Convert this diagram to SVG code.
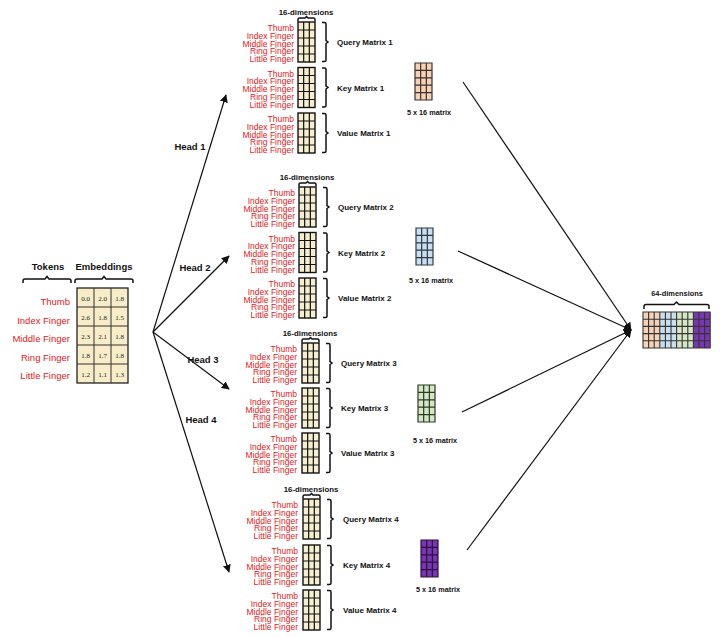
<svg xmlns="http://www.w3.org/2000/svg" xmlns:xlink="http://www.w3.org/1999/xlink" width="720" height="637" viewBox="0 0 720 637">
<style>
.lab{font-family:"Liberation Sans",Arial,sans-serif;font-size:8.5px;fill:#e3201b;text-anchor:end}
.tok{font-family:"Liberation Sans",Arial,sans-serif;font-size:9.5px;fill:#e3201b;text-anchor:end}
.mt{font-family:"Liberation Sans",Arial,sans-serif;font-size:8px;font-weight:bold;fill:#111}
.dim{font-family:"Liberation Sans",Arial,sans-serif;font-size:7.8px;font-weight:bold;fill:#111;text-anchor:middle}
.hd{font-family:"Liberation Sans",Arial,sans-serif;font-size:9.5px;font-weight:bold;fill:#111;text-anchor:middle}
.sz{font-family:"Liberation Sans",Arial,sans-serif;font-size:7.3px;font-weight:bold;fill:#111;text-anchor:middle}
.num{font-family:"Liberation Serif","Times New Roman",serif;font-size:7px;fill:#222;text-anchor:middle}
.br{fill:none;stroke:#111;stroke-width:1.5}
.ln{fill:none;stroke:#111;stroke-width:1.2}
</style>
<defs>
<g id="m">
<rect width="17" height="40" fill="#f6efcf" stroke="#111" stroke-width="1.4"/>
<path d="M5.67,0V40M11.33,0V40M0,8H17M0,16H17M0,24H17M0,32H17" stroke="#111" stroke-width="1.2" fill="none"/>
</g>
<path id="rb" class="br" d="M0,0.5h2.5q1.5,0 1.5,1.5v16.5l2,1.5l-2,1.5v16.5q0,1.5 -1.5,1.5h-2.5"/>
<path id="tb" class="br" d="M0,4.5v-2q0,-1.5 1.5,-1.5h5.5l1.5,-1.5l1.5,1.5h5.5q1.5,0 1.5,1.5v2"/>
<g id="labs">
<text x="0" y="9">Thumb</text>
<text x="0" y="16.75">Index Finger</text>
<text x="0" y="24.5">Middle Finger</text>
<text x="0" y="32.25">Ring Finger</text>
<text x="0" y="40">Little Finger</text>
</g>
<g id="gp"><rect width="17" height="37" fill="#f6d3b4"/><path d="M0,0H17V37H0Z M5.67,0V37M11.33,0V37M0,7.4H17M0,14.8H17M0,22.2H17M0,29.6H17" fill="none" stroke="#3a3030" stroke-width="1.2"/></g>
<g id="gb"><rect width="17" height="37" fill="#c9dff0"/><path d="M0,0H17V37H0Z M5.67,0V37M11.33,0V37M0,7.4H17M0,14.8H17M0,22.2H17M0,29.6H17" fill="none" stroke="#2f3a44" stroke-width="1.2"/></g>
<g id="gg"><rect width="17" height="37" fill="#d4e8c4"/><path d="M0,0H17V37H0Z M5.67,0V37M11.33,0V37M0,7.4H17M0,14.8H17M0,22.2H17M0,29.6H17" fill="none" stroke="#2b3a25" stroke-width="1.2"/></g>
<g id="gv"><rect width="17" height="37" fill="#7a35b0"/><path d="M0,0H17V37H0Z M5.67,0V37M11.33,0V37M0,7.4H17M0,14.8H17M0,22.2H17M0,29.6H17" fill="none" stroke="#2a1040" stroke-width="1.2"/></g>
<marker id="ah" viewBox="0 0 10 10" refX="9" refY="5" markerWidth="8" markerHeight="8" markerUnits="userSpaceOnUse" orient="auto"><path d="M0,0L10,5L0,10Z" fill="#111"/></marker>
</defs>

<g id="tokens">
<text class="hd" x="48" y="270">Tokens</text>
<path class="br" d="M23,283v-2q0,-2 2,-2h20l2,-2.5l2,2.5h20q2,0 2,2v2"/>
<text class="tok" x="70" y="305">Thumb</text>
<text class="tok" x="70" y="323.5">Index Finger</text>
<text class="tok" x="70" y="342">Middle Finger</text>
<text class="tok" x="70" y="360.5">Ring Finger</text>
<text class="tok" x="70" y="379">Little Finger</text>
</g>

<g id="embeddings">
<text class="hd" x="104" y="270">Embeddings</text>
<path class="br" d="M75,283v-2q0,-2 2,-2h25l2,-2.5l2,2.5h25q2,0 2,2v2"/>
<rect x="77" y="288" width="51" height="95" fill="#f8edc8" stroke="#111" stroke-width="1.2"/>
<path d="M94,288V383M111,288V383M77,307H128M77,326H128M77,345H128M77,364H128" stroke="#333" stroke-width="1" fill="none"/>
<g class="num">
<text x="85.5" y="300.5">0.0</text><text x="102.5" y="300.5">2.0</text><text x="119.5" y="300.5">1.8</text>
<text x="85.5" y="319.5">2.6</text><text x="102.5" y="319.5">1.8</text><text x="119.5" y="319.5">1.5</text>
<text x="85.5" y="338.5">2.3</text><text x="102.5" y="338.5">2.1</text><text x="119.5" y="338.5">1.8</text>
<text x="85.5" y="357.5">1.8</text><text x="102.5" y="357.5">1.7</text><text x="119.5" y="357.5">1.8</text>
<text x="85.5" y="376.5">1.2</text><text x="102.5" y="376.5">1.1</text><text x="119.5" y="376.5">1.3</text>
</g>
</g>

<g id="head1">
<text class="dim" x="306" y="15">16-dimensions</text>
<use href="#tb" x="298" y="17"/>
<use href="#labs" class="lab" x="294" y="22"/>
<use href="#m" x="298" y="22"/>
<use href="#rb" x="322" y="22"/>
<text class="mt" x="337" y="45">Query Matrix 1</text>
<use href="#labs" class="lab" x="294" y="67.5"/>
<use href="#m" x="298" y="67.5"/>
<use href="#rb" x="322" y="67.5"/>
<text class="mt" x="337" y="90.5">Key Matrix 1</text>
<use href="#labs" class="lab" x="294" y="113"/>
<use href="#m" x="298" y="113"/>
<use href="#rb" x="322" y="113"/>
<text class="mt" x="337" y="136">Value Matrix 1</text>
</g>

<g id="head2">
<text class="dim" x="307" y="180">16-dimensions</text>
<use href="#tb" x="299" y="182"/>
<use href="#labs" class="lab" x="295" y="187"/>
<use href="#m" x="299" y="187"/>
<use href="#rb" x="323" y="187"/>
<text class="mt" x="338" y="210">Query Matrix 2</text>
<use href="#labs" class="lab" x="295" y="232.5"/>
<use href="#m" x="299" y="232.5"/>
<use href="#rb" x="323" y="232.5"/>
<text class="mt" x="338" y="255.5">Key Matrix 2</text>
<use href="#labs" class="lab" x="295" y="278"/>
<use href="#m" x="299" y="278"/>
<use href="#rb" x="323" y="278"/>
<text class="mt" x="338" y="301">Value Matrix 2</text>
</g>

<g id="head3">
<text class="dim" x="310" y="336">16-dimensions</text>
<use href="#tb" x="302" y="338"/>
<use href="#labs" class="lab" x="297" y="343"/>
<use href="#m" x="302" y="343"/>
<use href="#rb" x="326" y="343"/>
<text class="mt" x="341" y="366">Query Matrix 3</text>
<use href="#labs" class="lab" x="297" y="388"/>
<use href="#m" x="302" y="388"/>
<use href="#rb" x="326" y="388"/>
<text class="mt" x="341" y="411">Key Matrix 3</text>
<use href="#labs" class="lab" x="297" y="433"/>
<use href="#m" x="302" y="433"/>
<use href="#rb" x="326" y="433"/>
<text class="mt" x="341" y="456">Value Matrix 3</text>
</g>

<g id="head4">
<text class="dim" x="311" y="492">16-dimensions</text>
<use href="#tb" x="303" y="494"/>
<use href="#labs" class="lab" x="298" y="499"/>
<use href="#m" x="303" y="499"/>
<use href="#rb" x="327" y="499"/>
<text class="mt" x="343" y="522">Query Matrix 4</text>
<use href="#labs" class="lab" x="298" y="545"/>
<use href="#m" x="303" y="545"/>
<use href="#rb" x="327" y="545"/>
<text class="mt" x="343" y="568">Key Matrix 4</text>
<use href="#labs" class="lab" x="298" y="590"/>
<use href="#m" x="303" y="590"/>
<use href="#rb" x="327" y="590"/>
<text class="mt" x="343" y="613">Value Matrix 4</text>
</g>

<g id="out1"><use href="#gp" x="415" y="63"/><text class="sz" x="429" y="115">5 x 16 matrix</text></g>
<g id="out2"><use href="#gb" x="416" y="228"/><text class="sz" x="431" y="283">5 x 16 matrix</text></g>
<g id="out3"><use href="#gg" x="418" y="385"/><text class="sz" x="435" y="443">5 x 16 matrix</text></g>
<g id="out4"><use href="#gv" x="421" y="540"/><text class="sz" x="438" y="592">5 x 16 matrix</text></g>

<g id="concat">
<text x="677" y="296" style="font-family:'Liberation Sans',Arial,sans-serif;font-size:7.4px;font-weight:bold;fill:#111;text-anchor:middle">64-dimensions</text>
<path class="br" d="M644,309v-2.5q0,-2 2,-2h28l2.5,-2.5l2.5,2.5h28q2,0 2,2v2.5"/>
<rect x="643" y="312" width="16.8" height="36" fill="#f6d3b4"/>
<rect x="659.8" y="312" width="16.8" height="36" fill="#c9dff0"/>
<rect x="676.6" y="312" width="16.8" height="36" fill="#d4e8c4"/>
<rect x="693.4" y="312" width="16.8" height="36" fill="#7a35b0"/>
<path d="M643,312H710.2V348H643Z M648.6,312V348M654.2,312V348M659.8,312V348M665.4,312V348M671,312V348M676.6,312V348M682.2,312V348M687.8,312V348M693.4,312V348M699,312V348M704.6,312V348 M643,319.2H710.2M643,326.4H710.2M643,333.6H710.2M643,340.8H710.2" fill="none" stroke="#333" stroke-width="1.1"/>
</g>

<g id="connectors">
<line class="ln" x1="153" y1="332" x2="226" y2="95" marker-end="url(#ah)"/>
<line class="ln" x1="153" y1="332" x2="229" y2="256" marker-end="url(#ah)"/>
<line class="ln" x1="153" y1="332" x2="229" y2="389" marker-end="url(#ah)"/>
<line class="ln" x1="153" y1="332" x2="229" y2="572" marker-end="url(#ah)"/>
<line class="ln" x1="463" y1="82" x2="631" y2="330" marker-end="url(#ah)"/>
<line class="ln" x1="458" y1="251" x2="631" y2="330" marker-end="url(#ah)"/>
<line class="ln" x1="462" y1="412" x2="631" y2="330" marker-end="url(#ah)"/>
<line class="ln" x1="467" y1="550" x2="631" y2="330" marker-end="url(#ah)"/>
<text class="hd" x="190" y="150">Head 1</text>
<text class="hd" x="195" y="271">Head 2</text>
<text class="hd" x="203" y="363">Head 3</text>
<text class="hd" x="201" y="423">Head 4</text>
</g>
</svg>
